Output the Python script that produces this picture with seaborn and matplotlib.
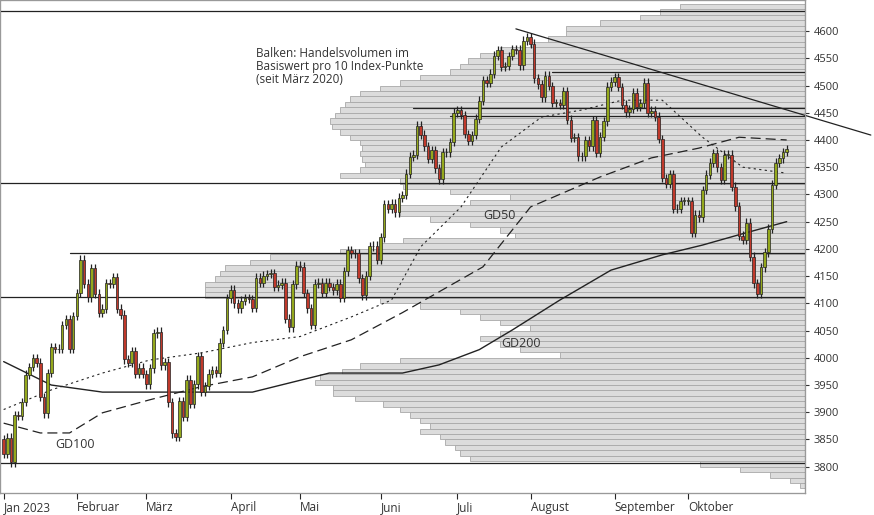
import numpy as np
import pandas as pd
import seaborn as sns
import matplotlib
matplotlib.use("Agg")
from matplotlib import pyplot as plt
from matplotlib.patches import Rectangle

sns.set_style("white")
plt.rcParams['font.family'] = ['Open Sans', 'DejaVu Sans']

# daily closes, S&P 500, Jan 3 2023 - Nov 8 2023
close_jan = [3824, 3853, 3808, 3895, 3893, 3919, 3969, 3983, 3999, 3991, 3928, 3898, 3972, 4019, 4017, 4016, 4060, 4071, 4017, 4077]
close_feb = [4119, 4180, 4136, 4111, 4164, 4118, 4082, 4090, 4137, 4136, 4148, 4090, 4079, 3997, 3991, 4012, 3970, 3982, 3970]
close_mar = [3951, 3981, 4045, 4048, 3986, 3992, 3918, 3861, 3855, 3920, 3892, 3960, 3916, 3951, 4003, 3937, 3948, 3971, 3977, 3972, 4028, 4051, 4109]
close_apr = [4125, 4100, 4091, 4105, 4109, 4108, 4092, 4147, 4138, 4151, 4154, 4155, 4130, 4134, 4138, 4072, 4056, 4135, 4169]
close_may = [4167, 4119, 4091, 4061, 4136, 4138, 4119, 4138, 4130, 4124, 4136, 4110, 4159, 4198, 4192, 4192, 4146, 4115, 4151, 4205, 4206, 4180]
close_jun = [4221, 4282, 4273, 4283, 4267, 4294, 4299, 4338, 4369, 4373, 4426, 4410, 4388, 4365, 4381, 4348, 4328, 4378, 4377, 4396, 4450]
close_jul = [4455, 4446, 4411, 4399, 4409, 4439, 4472, 4510, 4505, 4522, 4555, 4565, 4534, 4536, 4554, 4567, 4566, 4537, 4582, 4589]
close_aug = [4577, 4513, 4502, 4478, 4518, 4499, 4468, 4468, 4464, 4489, 4437, 4404, 4405, 4370, 4370, 4400, 4388, 4436, 4376, 4406, 4434, 4498, 4507]
close_sep = [4515, 4497, 4465, 4451, 4457, 4487, 4461, 4467, 4505, 4450, 4454, 4443, 4402, 4330, 4320, 4337, 4273, 4274, 4288, 4288]
close_oct = [4288, 4229, 4263, 4258, 4308, 4336, 4358, 4376, 4350, 4327, 4373, 4373, 4314, 4278, 4224, 4217, 4248, 4186, 4137, 4117, 4166, 4194]
close_nov = [4237, 4318, 4358, 4366, 4378, 4383]
first_open = 3850

months = ['Jan 2023', 'Februar', 'März', 'April', 'Mai', 'Juni', 'Juli', 'August', 'September', 'Oktober']

# moving averages: (trading-day index, value)
gd50_idx = [0, 13, 27, 40, 54, 68, 81, 95, 106, 114, 125, 136, 147, 158, 169, 180, 191, 202, 214]
gd50_val = [3905, 3941, 3972, 3996, 4009, 4028, 4039, 4075, 4106, 4204, 4277, 4387, 4442, 4455, 4473, 4473, 4405, 4350, 4339]
gd100_idx = [0, 10, 18, 27, 40, 54, 68, 81, 95, 109, 131, 144, 163, 177, 190, 201, 214]
gd100_val = [3880, 3862, 3862, 3899, 3923, 3947, 3965, 4002, 4033, 4083, 4167, 4277, 4332, 4367, 4385, 4405, 4400]
gd200_idx = [0, 13, 27, 40, 68, 89, 109, 119, 130, 139, 152, 166, 180, 191, 201, 214]
gd200_val = [3993, 3950, 3937, 3937, 3937, 3972, 3972, 3987, 4015, 4051, 4106, 4161, 4189, 4207, 4226, 4250]

# volume profile per 10 points (arbitrary units), levels 3760 ... 4640
profile_levels = list(range(3760, 4650, 10))
profile_vol = [5, 15, 35, 65, 105,                                  # 3760-3800
               335, 345, 350, 360, 365, 385, 375, 385, 395, 405,    # 3810-3900
               422, 450, 472, 472, 490, 485, 463, 445, 405, 245,    # 3910-4000
               285, 305, 325, 305, 275, 305, 325, 345, 385, 425,    # 4010-4100
               600, 600, 600, 590, 585, 580, 555, 535, 465, 425,    # 4110-4200
               402, 290, 305, 335, 375, 405, 405, 335, 295, 355,    # 4210-4300
               402, 405, 465, 445, 440, 443, 445, 443, 445, 455,    # 4310-4400
               465, 473, 475, 470, 465, 460, 455, 445, 425, 405,    # 4410-4500
               385, 355, 345, 337, 325, 305, 275, 257, 239, 239,    # 4510-4600
               205, 165, 145, 125]                                  # 4610-4640

# support / resistance lines: (level, start index)
hlines = [(4637, -1), (4525, 150), (4459, 112), (4444, 122), (4321, -1), (4193, 18), (4112, -1), (3807, -1)]

closes = close_jan + close_feb + close_mar + close_apr + close_may + close_jun + close_jul + close_aug + close_sep + close_oct + close_nov
opens = [first_open] + closes[:-1]
df = pd.DataFrame({'open': opens, 'close': closes})
df['i'] = np.arange(len(df))
month_len = [len(m) for m in [close_jan, close_feb, close_mar, close_apr, close_may, close_jun, close_jul, close_aug, close_sep, close_oct]]
month_start = np.cumsum([0] + month_len[:-1])

fig = plt.figure(figsize=(8.74, 5.15), dpi=100)
ax = fig.add_axes([0.0, 0.043, 0.921, 0.957])
ax2 = ax.twiny()
ax.set_zorder(ax2.get_zorder() + 1)
ax.patch.set_visible(False)

# volume profile, bars grow from the right edge
ax2.barh(profile_levels, profile_vol, height=10, align='edge', color='#dcdcdc', edgecolor='#a8a8a8', linewidth=0.6)
ax2.set_xlim(805, 0)
ax2.set_xticks([])

# candles
up_c, dn_c = '#94a81c', '#c0392b'
for _, r in df.iterrows():
    lo, hi = min(r.open, r.close), max(r.open, r.close)
    ax.vlines(r.i, lo - 8, hi + 8, color='#222222', lw=0.9, zorder=3)
    ax.add_patch(Rectangle((r.i - 0.35, lo), 0.7, max(hi - lo, 1), facecolor=up_c if r.close >= r.open else dn_c,
                           edgecolor='#222222', lw=0.5, zorder=4))

sns.lineplot(x=gd50_idx, y=gd50_val, ax=ax, color='#222222', lw=0.8, linestyle=(0, (2, 3)))
sns.lineplot(x=gd100_idx, y=gd100_val, ax=ax, color='#222222', lw=0.9, linestyle=(0, (8, 4)))
sns.lineplot(x=gd200_idx, y=gd200_val, ax=ax, color='#222222', lw=1.0)

for lvl, start in hlines:
    ax.plot([start, 219], [lvl, lvl], color='#222222', lw=0.9, zorder=2)
ax.plot([140, 237], [4604, 4409], color='#222222', lw=0.9, clip_on=False)

ax.text(69, 4570, 'Balken: Handelsvolumen im\nBasiswert pro 10 Index-Punkte\n(seit März 2020)', fontsize=8.5,
        color='#333333', va='top', linespacing=1.0)
ax.text(131, 4262, 'GD50', fontsize=9, color='#333333', va='center')
ax.text(136, 4027, 'GD200', fontsize=9, color='#333333', va='center')
ax.text(14, 3840, 'GD100', fontsize=9, color='#333333', va='center')

ax.set_xlim(-1, 219)
ax.set_ylim(3752, 4657)
ax.yaxis.tick_right()
ax.set_yticks(range(3800, 4601, 50))
ax.tick_params(axis='y', labelsize=8, colors='#333333', length=3, direction='out')
ax.set_xticks(month_start)
ax.set_xticklabels(months, ha='left', fontsize=8.5, color='#333333')
ax.tick_params(axis='x', length=4, pad=2, direction='out')
for s in ax.spines.values():
    s.set_color('#999999')
    s.set_linewidth(0.8)
ax.set_xlabel('')
ax.set_ylabel('')

fig.savefig('out.png', dpi=100)
